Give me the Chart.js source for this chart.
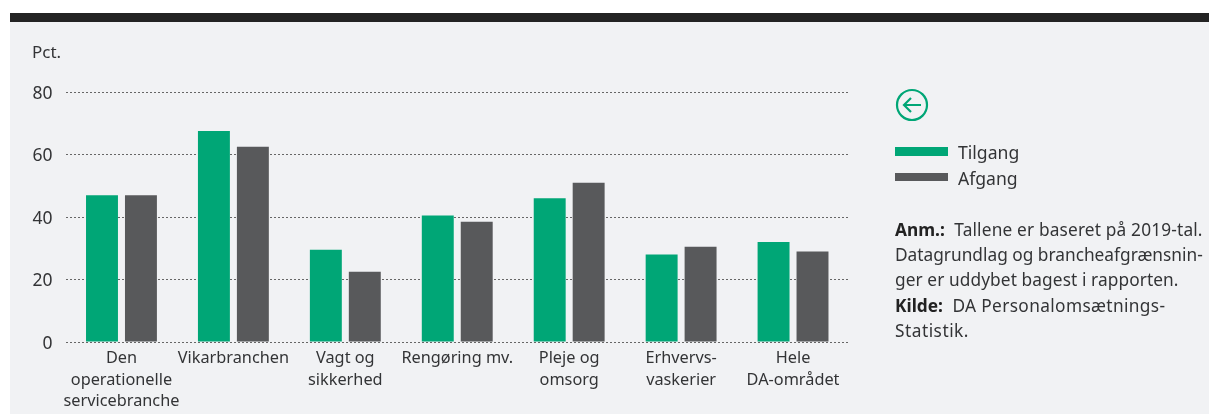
<!DOCTYPE html>
<html lang="da"><head><meta charset="utf-8">
<script src="https://cdn.jsdelivr.net/npm/chart.js@4"></script>
<style>
html,body{margin:0;padding:0;background:#fff;width:1209px;height:414px;overflow:hidden;font-family:"Noto Sans",sans-serif;color:#333436}
#panel{position:absolute;left:10px;top:22px;width:1199px;height:392px;background:#f1f2f4}
#bar{position:absolute;left:10px;top:13px;width:1199px;height:9px;background:#232323}
canvas{position:absolute;left:0;top:0}
.t{position:absolute;white-space:nowrap;font-size:17.6px}
.s{position:absolute;left:895px;width:53px}
#note{position:absolute;left:895px;top:217px;font-size:17.3px;line-height:25.2px;white-space:nowrap}
#note b{font-weight:700;color:#222;margin-right:9.5px}
</style></head><body>
<div id="panel"></div><div id="bar"></div>
<canvas id="c" width="1209" height="414"></canvas>
<div class="t" style="left:32px;top:40px;font-size:17px">Pct.</div>
<svg style="position:absolute;left:895px;top:87px" width="36" height="36" viewBox="0 0 36 36" fill="none" stroke="#00a676" stroke-width="2.2">
<circle cx="17" cy="18" r="15"/><path d="M9 18H26M16 11L9 18L16 25"/></svg>
<div class="s" style="top:147px;height:9px;background:#00a676"></div>
<div class="t" style="left:958px;top:140px">Tilgang</div>
<div class="s" style="top:173px;height:8px;background:#58595b"></div>
<div class="t" style="left:958px;top:166px">Afgang</div>
<div id="note"><b>Anm.:</b><span style="letter-spacing:.16px">Tallene er baseret på 2019-tal.</span><br>Datagrundlag og brancheafgrænsnin-<br><span style="letter-spacing:.09px">ger er uddybet bagest i rapporten.</span><br><b>Kilde:</b><span style="letter-spacing:.36px">DA Personalomsætnings-</span><br><span style="letter-spacing:.5px">Statistik.</span></div>
<script>
const categories = [["Den","operationelle","servicebranche"],"Vikarbranchen",["Vagt og","sikkerhed"],"Rengøring mv.",["Pleje og","omsorg"],["Erhvervs-","vaskerier"],["Hele","DA-området"]];
const tilgang = [47,67.5,29.5,40.5,46,28,32];
const afgang = [47,62.5,22.5,38.5,51,30.5,29];
const yTicks = [0,20,40,60,80];
const xFont = {family:'"Noto Sans",sans-serif',size:16.3,lineHeight:'21.5px'};
const yFont = {family:'"Noto Sans",sans-serif',size:17.5};
new Chart(document.getElementById('c'),{
 type:'bar',
 data:{labels:categories,datasets:[
  {label:'Tilgang',data:tilgang,backgroundColor:'#00a676'},
  {label:'Afgang',data:afgang,backgroundColor:'#58595b'}]},
 options:{responsive:false,animation:false,
  categoryPercentage:0.696,barPercentage:0.82,
  layout:{padding:{left:0,right:360,top:92,bottom:0}},
  plugins:{legend:{display:false},title:{display:false},tooltip:{enabled:false}},
  scales:{
   x:{grid:{display:false},border:{display:false},
      afterFit(s){s.height=72},
      ticks:{font:xFont,color:'#333436',padding:-2,maxRotation:0,minRotation:0,autoSkip:false}},
   y:{min:0,max:80,
      afterBuildTicks(s){s.ticks=yTicks.map(v=>({value:v}))},
      afterFit(s){s.width=65.5},
      grid:{drawTicks:false,color:'#666',lineWidth:1},
      border:{display:false,dash:[2,2]},
      ticks:{font:yFont,color:'#333436',padding:13,labelOffset:2}}
  }}
});
</script></body></html>
